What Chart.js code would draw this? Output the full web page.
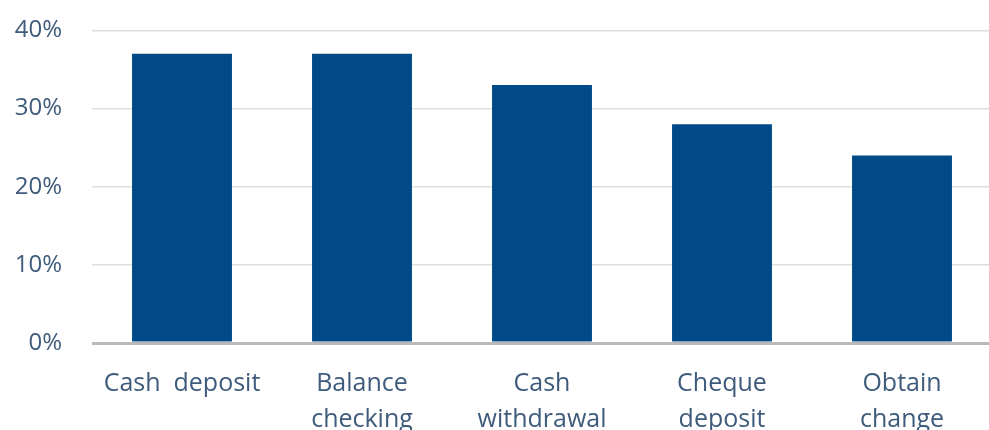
<!DOCTYPE html>
<html>
<head>
<meta charset="utf-8">
<script src="https://cdn.jsdelivr.net/npm/chart.js@4"></script>
<style>
  html, body { margin: 0; padding: 0; background: #fff; overflow: hidden; }
  .wrap { width: 989px; height: 430px; overflow: hidden; position: relative; }
  .box { width: 1000px; height: 459px; position: absolute; left: 0; top: -14px; }
</style>
</head>
<body>
<div class="wrap"><div class="box"><canvas id="chart"></canvas></div></div>
<script>
const categories = [
  'Cash  deposit',
  ['Balance', 'checking'],
  ['Cash', 'withdrawal'],
  ['Cheque', 'deposit'],
  ['Obtain', 'change']
];
const shares = [37, 37, 33, 28, 24];
const yTicks = [0, 10, 20, 30, 40];

const textColor = '#3e5b7b';

new Chart(document.getElementById('chart'), {
  type: 'bar',
  data: {
    labels: categories,
    datasets: [{
      data: shares,
      backgroundColor: '#004a87',
      borderWidth: 0,
      barPercentage: 0.555,
      categoryPercentage: 1
    }]
  },
  options: {
    responsive: true,
    maintainAspectRatio: false,
    animation: false,
    layout: { padding: { top: 4, right: 8, bottom: 0, left: 0 } },
    plugins: {
      legend: { display: false },
      tooltip: { enabled: false }
    },
    scales: {
      x: {
        grid: { display: false },
        border: { display: false },
        ticks: {
          color: textColor,
          font: { family: 'Open Sans', size: 25, lineHeight: '36px' },
          padding: 15,
          maxRotation: 0,
          autoSkip: false
        },
        afterFit: (s) => { s.height = 102; }
      },
      y: {
        min: 0,
        max: 40,
        afterBuildTicks: (s) => { s.ticks = yTicks.map((v) => ({ value: v })); },
        grid: {
          drawTicks: false,
          color: (ctx) => ctx.tick && ctx.tick.value === 0 ? '#b9b9b9' : '#dedede',
          lineWidth: (ctx) => ctx.tick && ctx.tick.value === 0 ? 3 : 1.5
        },
        border: { display: false },
        ticks: {
          color: textColor,
          font: { family: 'Open Sans', size: 24 },
          padding: 30,
          callback: (v) => v + '%'
        },
        afterFit: (s) => { s.width = 92; }
      }
    }
  }
});
</script>
</body>
</html>
